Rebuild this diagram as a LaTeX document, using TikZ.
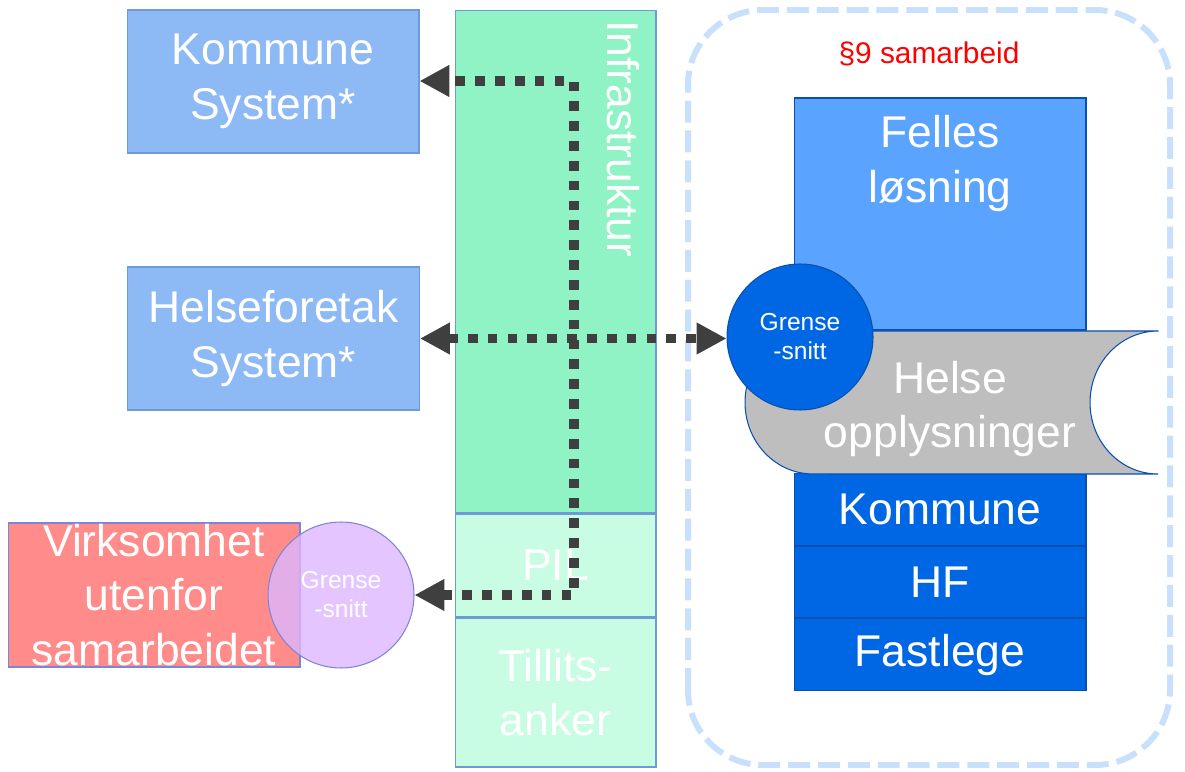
\documentclass[tikz,border=0pt]{standalone}
\usepackage{fontspec}
\setmainfont{Liberation Sans}
\usetikzlibrary{arrows.meta, positioning}

\definecolor{sysblue}{HTML}{8DBAF5}
\definecolor{sysline}{HTML}{6E9BD8}
\definecolor{infragreen}{HTML}{90F3C6}
\definecolor{palegreen}{HTML}{C9FDE3}
\definecolor{felles}{HTML}{5AA3FF}
\definecolor{deepblue}{HTML}{0067E4}
\definecolor{deepline}{HTML}{0B4FAF}
\definecolor{helsegray}{HTML}{BEBEBE}
\definecolor{outsidered}{HTML}{FF8B8B}
\definecolor{lilac}{HTML}{DDB6FF}
\definecolor{lilacline}{HTML}{7D86D6}
\definecolor{flowgray}{HTML}{3F3F3F}
\definecolor{framebl}{HTML}{C8E0FB}

\begin{document}
\begin{tikzpicture}[x = 0.02cm, y = 0.02cm, > = {Triangle[length = 17pt, width = 17pt]},
	big/.style = {text = white, font = \fontsize{25.3}{31}\selectfont, align = center},
	small/.style = {text = white, font = \fontsize{14}{16.5}\selectfont, align = center},
	box/.style = {draw = #1, line width = 0.6pt, inner sep = 0pt, minimum width = 5.84cm},
	column/.style = {draw = sysline, line width = 0.6pt, inner sep = 0pt, minimum width = 4.02cm},
	grense/.style = {circle, draw = #1, line width = 0.6pt, minimum size = 2.92cm, inner sep = 0pt},
	flow/.style = {draw = flowgray, line width = 5.5pt, dash pattern = on 5.5pt off 5.8pt},
	frame/.style = {draw = framebl, line width = 3.4pt, dash pattern = on 12.5pt off 4.5pt, rounded corners = 1.5cm}]

	\useasboundingbox (0, 0) rectangle (1185, 771);

	% Samarbeid frame
	
	\draw [frame] (688, 6) rectangle (1170, 761);
	\node [text = red, font = \fontsize{17}{20}\selectfont] (para) at (929, 717) {§9 samarbeid};

	% Infrastructure column
	
	\node [column, fill = infragreen, minimum height = 10.06cm] (infra) at (555.5, 509.5) {};
	\node [column, fill = palegreen, minimum height = 2.06cm, below = 0pt of infra] (pil) {};
	\node [column, fill = palegreen, minimum height = 2.98cm, below = 0pt of pil] (anker) {};
	\node [big, rotate = -90, anchor = north west, inner sep = 0pt] (infratext) at (640, 751) {Infrastruktur};
	\node [big] at (pil) {PIL};
	\node [big] at (anker) {Tillits-\\anker};

	% Common solution + stack
	
	\node [box = deepline, fill = felles, minimum height = 4.64cm] (losning) at (940, 557) {};
	\node [big, anchor = north, inner sep = 0pt] (losningtext) at ([yshift = -10pt]losning.north) {Felles\\løsning};
	\node [box = deepline, fill = deepblue, minimum height = 1.43cm, big] (kommune) at (940, 261.5) {Kommune};
	\node [box = deepline, fill = deepblue, minimum height = 1.43cm, big, below = 0pt of kommune] (hf) {HF};
	\node [box = deepline, fill = deepblue, minimum height = 1.43cm, big, below = 0pt of hf] (fastlege) {Fastlege};
	
	% Helse opplysninger (stored data)
	
	\draw [fill = helsegray, draw = deepline, line width = 0.6pt] (1158, 440) -- (813, 440)
		arc [start angle = 90, end angle = 270, x radius = 1.36cm, y radius = 1.43cm] -- (1158, 297)
		arc [start angle = 270, end angle = 90, x radius = 1.36cm, y radius = 1.43cm] -- cycle;
	\node [big] (helse) at (950, 362) {Helse\\opplysninger};
	
	\node [grense = deepline, fill = deepblue, small] (grenseR) at (800, 434) {Grense\\-snitt};

	% Systems
	
	\node [box = sysline, fill = sysblue, minimum height = 2.86cm, big] (kommunesys) at (273, 689.5) {Kommune\\System*};
	\node [box = sysline, fill = sysblue, minimum height = 2.86cm, big] (hfsys) at (273.5, 432.5) {Helseforetak\\System*};
	\node [box = lilacline, fill = outsidered, minimum height = 2.88cm, big] (utenfor) at (154, 176) {Virksomhet\\utenfor\\samarbeidet};
	\node [grense = lilacline, fill = lilac, fill opacity = 0.8, text opacity = 1, small] (grenseL) at (341, 176) {Grense\\-snitt};

	% Flows
	
	\coordinate (spinetop) at (574, 690);
	\coordinate (spinebot) at (574, 176);
	
	\draw [flow, <->] (grenseL.east) -- (spinebot) -- (spinetop) -- (spinetop -| kommunesys.east);
	\draw [flow, <->] (hfsys.east) -- (hfsys.east -| grenseR.west);

\end{tikzpicture}
\end{document}
